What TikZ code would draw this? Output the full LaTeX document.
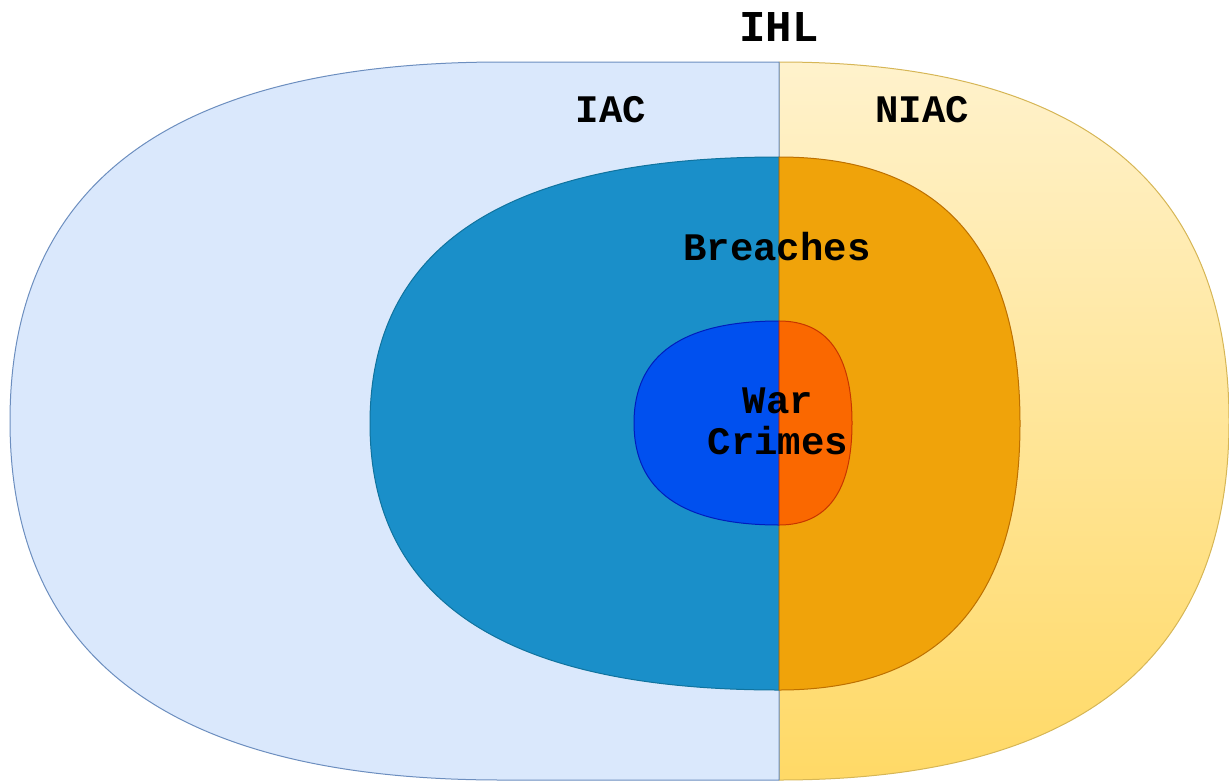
\documentclass[tikz,border=0pt]{standalone}
\usepackage{fontspec}
\newfontfamily\labelfont{Liberation Mono}
\definecolor{outerL}{HTML}{DAE8FC}
\definecolor{outerLs}{HTML}{6C8EBF}
\definecolor{outerRt}{HTML}{FFF2CC}
\definecolor{outerRb}{HTML}{FFD966}
\definecolor{outerRs}{HTML}{D6B656}
\definecolor{midL}{HTML}{1A8FC9}
\definecolor{midLs}{HTML}{10739E}
\definecolor{midR}{HTML}{F0A30A}
\definecolor{midRs}{HTML}{BD7000}
\definecolor{inL}{HTML}{0050EF}
\definecolor{inLs}{HTML}{001DBC}
\definecolor{inR}{HTML}{FA6800}
\definecolor{inRs}{HTML}{C73500}
\tikzset{
  region/.style={line width=1pt, line join=round},
  lbl/.style={font=\labelfont\bfseries\fontsize{39}{41}\selectfont, text=black, inner sep=0pt, align=center},
}
\begin{document}
\begin{tikzpicture}[x=1pt,y=-1pt]
\useasboundingbox (0,0) rectangle (1229,782);
% outer right (NIAC)
\path[region, draw=outerRs, top color=outerRt, bottom color=outerRb]
  (779,62) .. controls (1079,62) and (1229,181.7) .. (1229,421)
  .. controls (1229,660.3) and (1079,780) .. (779,780) -- cycle;
% outer left (IAC)
\path[region, draw=outerLs, fill=outerL]
  (779,62) -- (502,62) .. controls (174,62) and (10,181.7) .. (10,421)
  .. controls (10,660.3) and (174,780) .. (502,780) -- (779,780) -- cycle;
% middle left
\path[region, draw=midLs, fill=midL]
  (779,157) .. controls (506.3,157) and (370,245.8) .. (370,423.5)
  .. controls (370,601.2) and (506.3,690) .. (779,690) -- cycle;
% middle right
\path[region, draw=midRs, fill=midR]
  (779,157) .. controls (939.7,157) and (1020,245.8) .. (1020,423.5)
  .. controls (1020,601.2) and (939.7,690) .. (779,690) -- cycle;
% inner left
\path[region, draw=inLs, fill=inL]
  (779,321) .. controls (682.3,321) and (634,355) .. (634,423)
  .. controls (634,491) and (682.3,525) .. (779,525) -- cycle;
% inner right
\path[region, draw=inRs, fill=inR]
  (779,321) .. controls (827.7,321) and (852,355) .. (852,423)
  .. controls (852,491) and (827.7,525) .. (779,525) -- cycle;
% labels
\node[lbl, font=\labelfont\bfseries\fontsize{44}{46}\selectfont] (ihl) at (779,27) {IHL};
\node[lbl] (iac) at (611,110) {IAC};
\node[lbl] (niac) at (922,110) {NIAC};
\node[lbl] (breaches) at (777,247) {Breaches};
\node[lbl] (war) at (778,421) {War\\Crimes};
\end{tikzpicture}
\end{document}
